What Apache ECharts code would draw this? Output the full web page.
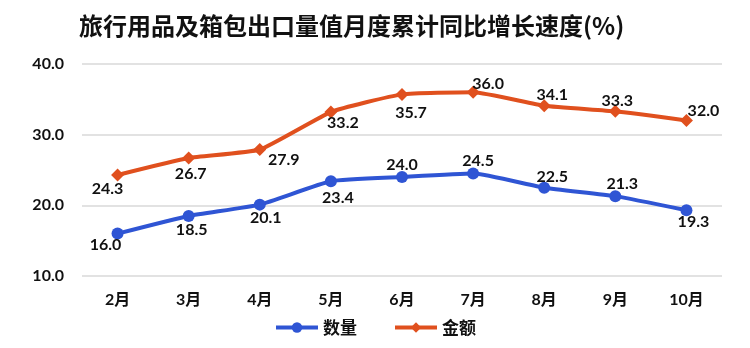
<!DOCTYPE html>
<html><head><meta charset="utf-8">
<script src="https://cdn.jsdelivr.net/npm/echarts@6/dist/echarts.min.js"></script>
<style>html,body{margin:0;padding:0;background:#fff}#c{width:750px;height:348px}</style>
</head><body><div id="c"></div>
<script>
const titleText = '旅行用品及箱包出口量值月度累计同比增长速度(%)';
const categories = ['2月','3月','4月','5月','6月','7月','8月','9月','10月'];
const quantityName = '数量';
const quantity = [16.0, 18.5, 20.1, 23.4, 24.0, 24.5, 22.5, 21.3, 19.3];
const amountName = '金额';
const amount = [24.3, 26.7, 27.9, 33.2, 35.7, 36.0, 34.1, 33.3, 32.0];
const yTicks = [10, 20, 30, 40];

// label placement (style only)
const qOff = [[-12,11],[3,14],[6,13],[7,17],[0,-12],[5,-13],[8,-11],[7,-12],[7,12]];
const aOff = [[-10,14],[2,16],[24,10],[12,11],[9,18],[15,-8],[8,-11],[2,-11],[17,-10]];

const FONT = 'Lato, "Noto Sans CJK SC", sans-serif';
const BLUE = '#2F55D4', ORANGE = '#E0501E';

function mk(vals, offs) {
  return vals.map((v, i) => ({
    value: v,
    label: { show: true, position: 'inside', offset: offs[i] }
  }));
}

const chart = echarts.init(document.getElementById('c'), null, {renderer: 'canvas'});
chart.setOption({
  animation: false,
  title: {
    text: titleText, left: 74, top: 9,
    textStyle: { fontSize: 24, fontWeight: 'bold', color: '#111', fontFamily: '"Noto Sans CJK SC", sans-serif' }
  },
  legend: {
    bottom: 7, left: 'center', itemWidth: 42, itemHeight: 13, itemGap: 36,
    textStyle: { fontSize: 17, fontWeight: 'bold', color: '#111', fontFamily: '"Noto Sans CJK SC", sans-serif' },
    data: [
      { name: quantityName, lineStyle: { width: 4 } },
      { name: amountName, lineStyle: { width: 4 } }
    ]
  },
  grid: { left: 82, right: 28, top: 64, bottom: 72, containLabel: false },
  xAxis: {
    type: 'category', data: categories, boundaryGap: true,
    axisLine: { show: false }, axisTick: { show: false },
    axisLabel: { fontSize: 16, fontWeight: 'bold', color: '#111', margin: 16, fontFamily: FONT }
  },
  yAxis: {
    type: 'value', min: yTicks[0], max: yTicks[yTicks.length-1], interval: 10,
    axisLine: { show: false }, axisTick: { show: false },
    axisLabel: { fontSize: 16, fontWeight: 'bold', color: '#111', margin: 18, fontFamily: FONT,
      formatter: v => v.toFixed(1) },
    splitLine: { lineStyle: { color: '#d9d9d9', width: 1.5 } }
  },
  series: [
    {
      name: quantityName, type: 'line', data: mk(quantity, qOff),
      symbol: 'circle', symbolSize: 12, smooth: 0.15,
      lineStyle: { color: BLUE, width: 4 }, itemStyle: { color: BLUE },
      label: { fontSize: 16, fontWeight: 'bold', color: '#111', fontFamily: FONT,
        formatter: p => p.value.toFixed(1) }
    },
    {
      name: amountName, type: 'line', data: mk(amount, aOff),
      symbol: 'diamond', symbolSize: 13, smooth: 0.15,
      lineStyle: { color: ORANGE, width: 4 }, itemStyle: { color: ORANGE },
      label: { fontSize: 16, fontWeight: 'bold', color: '#111', fontFamily: FONT,
        formatter: p => p.value.toFixed(1) }
    }
  ]
});
</script></body></html>
